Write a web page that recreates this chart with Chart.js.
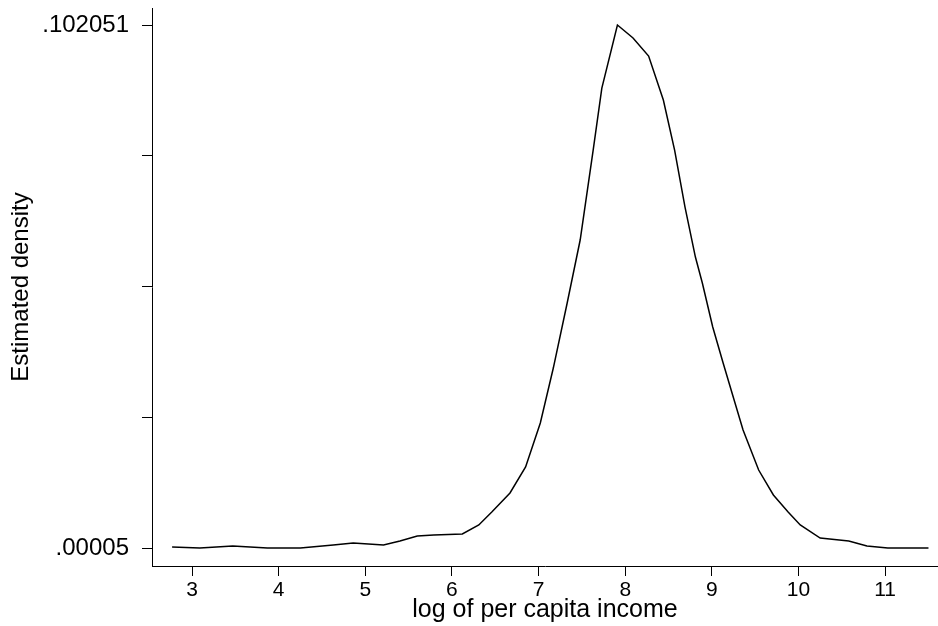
<!DOCTYPE html>
<html>
<head>
<meta charset="utf-8">
<title>Estimated density</title>
<script src="https://cdn.jsdelivr.net/npm/chart.js@4"></script>
<style>
    html, body { margin: 0; padding: 0; background: #fff; }
    #wrap { width: 938px; height: 626px; }
</style>
</head>
<body>
<div id="wrap"><canvas id="grafico"></canvas></div>
<script>
// dados
const logRenda = [2.77, 3.09, 3.47, 3.87, 4.25, 4.63, 4.86, 5.21, 5.40, 5.60, 5.79, 6.12, 6.31, 6.46,
    6.67, 6.85, 7.02, 7.17, 7.33, 7.48, 7.63, 7.73, 7.91, 8.09, 8.27, 8.44, 8.57, 8.69, 8.81,
    8.89, 9.01, 9.13, 9.25, 9.36, 9.54, 9.71, 9.88, 10.02, 10.25, 10.58, 10.79, 11.03, 11.29, 11.50];
const densidade = [0.00025, 0.00005, 0.00044, 0.00005, 0.00005, 0.00064, 0.00103, 0.00064, 0.00142,
    0.00239, 0.00259, 0.00278, 0.00454, 0.00707, 0.01078, 0.01585, 0.02443, 0.03515, 0.04783,
    0.06012, 0.07767, 0.08976, 0.102051, 0.09951, 0.09600, 0.08742, 0.07767, 0.06655, 0.05680,
    0.05173, 0.04315, 0.03613, 0.02930, 0.02306, 0.01526, 0.01039, 0.00707, 0.00454, 0.00200,
    0.00142, 0.00044, 0.00005, 0.00005, 0.00005];

const xTicks = [3, 4, 5, 6, 7, 8, 9, 10, 11];
const yTicks = [0.00005, 0.0255, 0.05105, 0.0766, 0.102051];
const yTickLabels = ['.00005', '', '', '', '.102051'];

const pontos = logRenda.map((x, i) => ({ x: x, y: densidade[i] }));

const familia = 'Liberation Sans, Arial, sans-serif';

new Chart(document.getElementById('grafico'), {
    type: 'scatter',
    data: {
        datasets: [{
            data: pontos,
            showLine: true,
            borderColor: '#000',
            borderWidth: 1.5,
            pointRadius: 0,
            tension: 0,
            fill: false
        }]
    },
    options: {
        responsive: true,
        maintainAspectRatio: false,
        animation: false,
        layout: { padding: { top: 8, right: 0, left: 0, bottom: 0 } },
        plugins: {
            legend: { display: false },
            tooltip: { enabled: false }
        },
        scales: {
            x: {
                type: 'linear',
                min: 2.538,
                max: 11.61,
                afterBuildTicks: (scale) => { scale.ticks = xTicks.map(v => ({ value: v })); },
                afterFit: (scale) => {
                    scale.height = 60;
                    scale.paddingLeft = 0;
                    scale.paddingRight = 0;
                },
                ticks: {
                    color: '#000',
                    font: { family: familia, size: 21 },
                    padding: 2,
                    maxRotation: 0,
                    callback: (v) => String(v)
                },
                grid: { drawOnChartArea: false, drawTicks: true, tickLength: 10, color: '#000', lineWidth: 1 },
                border: { display: true, color: '#000', width: 1 },
                title: {
                    display: true,
                    text: 'log of per capita income',
                    color: '#000',
                    font: { family: familia, size: 25 },
                    padding: { top: 0, bottom: 1 }
                }
            },
            y: {
                type: 'linear',
                min: -0.00346,
                max: 0.10537,
                afterBuildTicks: (scale) => { scale.ticks = yTicks.map(v => ({ value: v })); },
                afterFit: (scale) => {
                    scale.width = 152;
                    scale.paddingTop = 0;
                    scale.paddingBottom = 0;
                },
                ticks: {
                    color: '#000',
                    font: { family: familia, size: 24 },
                    padding: 13,
                    callback: (v, i) => yTickLabels[i]
                },
                grid: { drawOnChartArea: false, drawTicks: true, tickLength: 10, color: '#000', lineWidth: 1 },
                border: { display: true, color: '#000', width: 1 },
                title: {
                    display: true,
                    text: 'Estimated density',
                    color: '#000',
                    font: { family: familia, size: 24 },
                    padding: { top: 7, bottom: 0 }
                }
            }
        }
    }
});
</script>
</body>
</html>
